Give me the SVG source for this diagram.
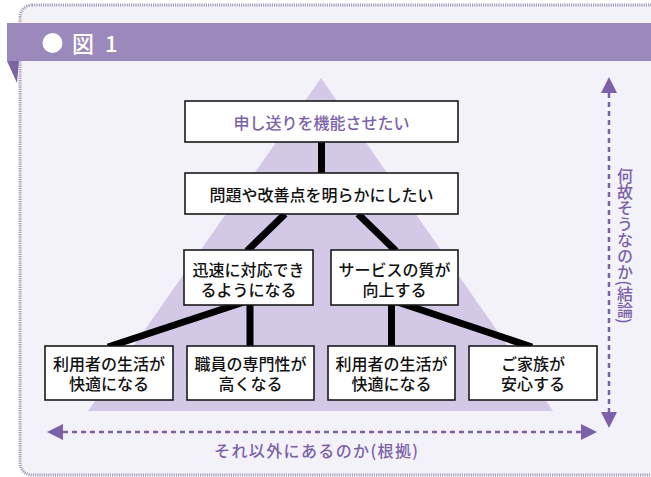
<svg xmlns="http://www.w3.org/2000/svg" width="651" height="477" viewBox="0 0 651 477">
<defs>
<style>
.box{fill:#ffffff;stroke:#1a1a1a;stroke-width:1.6}
.t{font-family:"Noto Sans CJK JP","Noto Sans",sans-serif;font-size:16px;font-weight:500;fill:#111;text-anchor:middle;dominant-baseline:central}
.p{fill:#7b62a8}
.conn{stroke:#000;stroke-width:7;fill:none}
.dash{stroke:#7b62a8;stroke-width:2.5;stroke-dasharray:5 4;fill:none}
.head{fill:#7b62a8}
</style>
</defs>
<rect x="0" y="0" width="651" height="477" fill="#ffffff"/>
<rect x="20" y="5" width="660" height="470" rx="12" fill="#f3f2f8" stroke="#a59cba" stroke-width="3" stroke-dasharray="1.2 1"/>
<rect x="7" y="23" width="644" height="38" fill="#9b89bc"/>
<polygon points="7,61 19,61 17,83" fill="#7a65a0"/>
<circle cx="52.5" cy="43" r="10" fill="#ffffff"/>
<text x="72" y="52" font-family="Noto Sans CJK JP,sans-serif" font-size="22" font-weight="500" fill="#ffffff">図<tspan x="105">1</tspan></text>
<polygon points="321,78 553,411 88,411" fill="#d4c8e7"/>
<g id="connectors">
<line class="conn" x1="321.5" y1="142" x2="321.5" y2="173"/>
<line class="conn" x1="285" y1="214" x2="247" y2="251"/>
<line class="conn" x1="358" y1="214" x2="396" y2="251"/>
<line class="conn" x1="250" y1="300" x2="250" y2="347"/>
<line class="conn" x1="250" y1="300" x2="108" y2="347"/>
<line class="conn" x1="391.5" y1="300" x2="391.5" y2="347"/>
<line class="conn" x1="391.5" y1="300" x2="532" y2="347"/>
</g>
<g id="n1"><rect class="box" x="185" y="101" width="273" height="41"/><text class="t p" x="321.5" y="122">申し送りを機能させたい</text></g>
<g id="n2"><rect class="box" x="185" y="173" width="273" height="41"/><text class="t" x="321.5" y="194">問題や改善点を明らかにしたい</text></g>
<g id="n3"><rect class="box" x="184" y="250" width="129" height="55"/><text class="t" x="248.5" y="269">迅速に対応でき<tspan x="248.5" dy="20">るようになる</tspan></text></g>
<g id="n4"><rect class="box" x="331" y="250" width="127" height="55"/><text class="t" x="394.5" y="269">サービスの質が<tspan x="394.5" dy="20">向上する</tspan></text></g>
<g id="n5"><rect class="box" x="45" y="346" width="128" height="54"/><text class="t" x="109" y="363">利用者の生活が<tspan x="109" dy="20">快適になる</tspan></text></g>
<g id="n6"><rect class="box" x="187" y="346" width="127" height="54"/><text class="t" x="250.5" y="363">職員の専門性が<tspan x="250.5" dy="20">高くなる</tspan></text></g>
<g id="n7"><rect class="box" x="328" y="346" width="127" height="54"/><text class="t" x="391.5" y="363">利用者の生活が<tspan x="391.5" dy="20">快適になる</tspan></text></g>
<g id="n8"><rect class="box" x="469" y="346" width="128" height="54"/><text class="t" x="533" y="363">ご家族が<tspan x="533" dy="20">安心する</tspan></text></g>
<g id="axes">
<line class="dash" x1="609" y1="93" x2="609" y2="412"/>
<polygon class="head" points="609,77 617,93 601,93"/>
<polygon class="head" points="609,428 617,412 601,412"/>
<line class="dash" x1="63" y1="432" x2="581" y2="432"/>
<polygon class="head" points="47,432 63,424 63,440"/>
<polygon class="head" points="597,432 581,424 581,440"/>
<text class="t p" x="625" y="246" style="writing-mode:vertical-rl">何故そうなのか(結論)</text>
<text class="t p" x="316" y="450" textLength="204" lengthAdjust="spacing">それ以外にあるのか(根拠)</text>
</g>
</svg>
